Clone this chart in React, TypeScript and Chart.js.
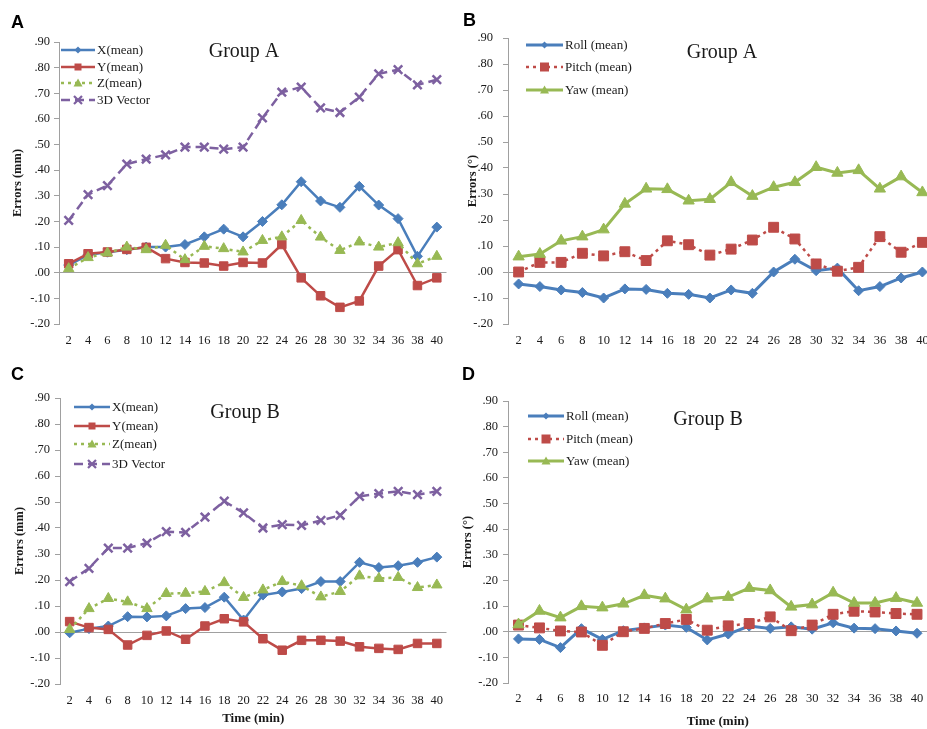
import React, { useEffect, useRef } from 'react';
import { Chart, registerables } from 'chart.js';

Chart.register(...registerables);

// ---------- data ----------
const timeLabels = ['2', '4', '6', '8', '10', '12', '14', '16', '18', '20', '22', '24', '26', '28', '30', '32', '34', '36', '38', '40'];

const groupA_X = [0.03, 0.07, 0.08, 0.09, 0.10, 0.10, 0.11, 0.14, 0.17, 0.14, 0.20, 0.265, 0.355, 0.28, 0.255, 0.337, 0.264, 0.211, 0.064, 0.178];
const groupA_Y = [0.035, 0.074, 0.081, 0.091, 0.099, 0.055, 0.04, 0.038, 0.026, 0.04, 0.038, 0.11, -0.02, -0.09, -0.135, -0.11, 0.026, 0.09, -0.05, -0.02];
const groupA_Z = [0.016, 0.059, 0.077, 0.10, 0.09, 0.107, 0.051, 0.103, 0.094, 0.081, 0.126, 0.14, 0.204, 0.139, 0.087, 0.12, 0.10, 0.117, 0.035, 0.064];
const groupA_3D = [0.204, 0.305, 0.34, 0.424, 0.443, 0.46, 0.49, 0.49, 0.482, 0.49, 0.604, 0.704, 0.724, 0.643, 0.625, 0.685, 0.776, 0.792, 0.733, 0.753];

const groupA_Roll = [-0.046, -0.056, -0.069, -0.079, -0.10, -0.065, -0.067, -0.082, -0.086, -0.10, -0.069, -0.082, 0.0, 0.049, 0.005, 0.015, -0.072, -0.056, -0.023, 0.0];
const groupA_Pitch = [0.0, 0.037, 0.037, 0.072, 0.062, 0.078, 0.044, 0.12, 0.105, 0.065, 0.088, 0.123, 0.172, 0.127, 0.031, 0.003, 0.018, 0.136, 0.076, 0.114];
const groupA_Yaw = [0.059, 0.069, 0.12, 0.136, 0.163, 0.262, 0.32, 0.318, 0.274, 0.28, 0.345, 0.292, 0.326, 0.345, 0.403, 0.381, 0.391, 0.32, 0.367, 0.306];

const groupB_X = [-0.003, 0.013, 0.023, 0.059, 0.058, 0.062, 0.09, 0.094, 0.134, 0.046, 0.142, 0.154, 0.167, 0.194, 0.194, 0.268, 0.248, 0.255, 0.268, 0.288];
const groupB_Y = [0.04, 0.017, 0.01, -0.05, -0.013, 0.004, -0.028, 0.023, 0.051, 0.039, -0.026, -0.07, -0.032, -0.032, -0.035, -0.057, -0.063, -0.067, -0.044, -0.044];
const groupB_Z = [0.01, 0.09, 0.129, 0.116, 0.09, 0.148, 0.149, 0.156, 0.19, 0.133, 0.162, 0.194, 0.178, 0.135, 0.156, 0.216, 0.206, 0.21, 0.171, 0.181];
const groupB_3D = [0.194, 0.245, 0.323, 0.323, 0.342, 0.386, 0.383, 0.442, 0.503, 0.458, 0.40, 0.413, 0.41, 0.429, 0.449, 0.522, 0.532, 0.541, 0.528, 0.541];

const groupB_Roll = [-0.028, -0.03, -0.062, 0.012, -0.03, 0.004, 0.015, 0.026, 0.017, -0.032, -0.009, 0.022, 0.013, 0.019, 0.01, 0.035, 0.014, 0.012, 0.003, -0.006];
const groupB_Pitch = [0.026, 0.015, 0.003, -0.001, -0.053, 0.0, 0.013, 0.032, 0.048, 0.006, 0.023, 0.032, 0.058, 0.004, 0.026, 0.068, 0.08, 0.077, 0.071, 0.068];
const groupB_Yaw = [0.028, 0.081, 0.055, 0.099, 0.094, 0.109, 0.142, 0.129, 0.086, 0.129, 0.135, 0.17, 0.161, 0.097, 0.106, 0.152, 0.112, 0.112, 0.131, 0.112];

const positionLabels = ['X(mean)', 'Y(mean)', 'Z(mean)', '3D Vector'];
const angleLabels = ['Roll (mean)', 'Pitch (mean)', 'Yaw (mean)'];

// ---------- styles ----------
const BLUE = '#4a7ebb';
const RED = '#be4b48';
const GREEN = '#98b954';
const PURPLE = '#7d60a0';
const TEXT = '#1a1a1a';
const AXIS = '#a0a0a0';
const SERIF = '"Liberation Serif", "Times New Roman", serif';
const SANS = '"Liberation Sans", Arial, sans-serif';

type Series = {
  label: string;
  data: number[];
  color: string;
  dash: number[];
  style: string;
  radius: number;
  pbw: number;
  lw: number;
  legR: number;
};

function positionSeries(x: number[], y: number[], z: number[], v: number[]): Series[] {
  return [
    { label: positionLabels[0], data: x, color: BLUE, dash: [], style: 'rectRot', radius: 5, pbw: 1, lw: 2.5, legR: 3.5 },
    { label: positionLabels[1], data: y, color: RED, dash: [], style: 'rect', radius: 6, pbw: 1, lw: 2.5, legR: 3.5 },
    { label: positionLabels[2], data: z, color: GREEN, dash: [3, 4], style: 'triangle', radius: 6, pbw: 1, lw: 2.5, legR: 4.5 },
    { label: positionLabels[3], data: v, color: PURPLE, dash: [9, 5], style: 'crossRot', radius: 6, pbw: 2.5, lw: 2.5, legR: 4 },
  ];
}

function angleSeries(r: number[], p: number[], yw: number[]): Series[] {
  return [
    { label: angleLabels[0], data: r, color: BLUE, dash: [], style: 'rectRot', radius: 5, pbw: 1, lw: 3, legR: 3.5 },
    { label: angleLabels[1], data: p, color: RED, dash: [3, 4], style: 'rect', radius: 7, pbw: 1, lw: 2.5, legR: 4.5 },
    { label: angleLabels[2], data: yw, color: GREEN, dash: [], style: 'triangle', radius: 6.5, pbw: 1, lw: 3, legR: 4.5 },
  ];
}

type PanelCfg = {
  left: number; top: number; width: number; height: number;
  L: number; T: number; R: number; H: number;
  yPad: number; yTitlePad: number; xPad: number; xTitlePad: number;
  yTitle: string; xTitle: string | null;
  group: string; gx: number; gy: number;
  letter: string; lx: number; ly: number;
  leg: { x1: number; x2: number; tx: number; ys: number[] };
  series: Series[];
};

const panels: PanelCfg[] = [
  {
    left: 0, top: 0, width: 455, height: 360, L: 59, T: 42, R: 4, H: 36,
    yPad: 4, yTitlePad: 10.5, xPad: 9.5, xTitlePad: 0,
    yTitle: 'Errors (mm)', xTitle: null,
    group: 'Group A', gx: 244, gy: 52, letter: 'A', lx: 11, ly: 23,
    leg: { x1: 61, x2: 95, tx: 97, ys: [50, 67, 83, 100] },
    series: positionSeries(groupA_X, groupA_Y, groupA_Z, groupA_3D),
  },
  {
    left: 455, top: 0, width: 490, height: 360, L: 53, T: 38, R: 12, H: 36,
    yPad: 10, yTitlePad: 10.5, xPad: 9.5, xTitlePad: 0,
    yTitle: 'Errors (°)', xTitle: null,
    group: 'Group A', gx: 267, gy: 53, letter: 'B', lx: 8, ly: 21,
    leg: { x1: 71, x2: 108, tx: 110, ys: [45, 67, 90] },
    series: angleSeries(groupA_Roll, groupA_Pitch, groupA_Yaw),
  },
  {
    left: 0, top: 360, width: 455, height: 369, L: 60, T: 38, R: 3, H: 45,
    yPad: 5, yTitlePad: 12.5, xPad: 9.5, xTitlePad: 3,
    yTitle: 'Errors (mm)', xTitle: 'Time (min)',
    group: 'Group B', gx: 245, gy: 53, letter: 'C', lx: 11, ly: 15,
    leg: { x1: 74, x2: 110, tx: 112, ys: [47, 66, 84, 104] },
    series: positionSeries(groupB_X, groupB_Y, groupB_Z, groupB_3D),
  },
  {
    left: 455, top: 360, width: 490, height: 369, L: 53, T: 41, R: 17.5, H: 46,
    yPad: 5, yTitlePad: 5.5, xPad: 8.5, xTitlePad: 0,
    yTitle: 'Errors (°)', xTitle: 'Time (min)',
    group: 'Group B', gx: 253, gy: 60, letter: 'D', lx: 7, ly: 15,
    leg: { x1: 73, x2: 109, tx: 111, ys: [56, 79, 101] },
    series: angleSeries(groupB_Roll, groupB_Pitch, groupB_Yaw),
  },
];

function drawMarker(ctx: CanvasRenderingContext2D, style: string, x: number, y: number, r: number, color: string) {
  ctx.save();
  ctx.setLineDash([]);
  ctx.fillStyle = color;
  ctx.strokeStyle = color;
  ctx.beginPath();
  if (style === 'rectRot') {
    ctx.moveTo(x, y - r);
    ctx.lineTo(x + r, y);
    ctx.lineTo(x, y + r);
    ctx.lineTo(x - r, y);
    ctx.closePath();
    ctx.fill();
  } else if (style === 'rect') {
    ctx.rect(x - r, y - r, 2 * r, 2 * r);
    ctx.fill();
  } else if (style === 'triangle') {
    ctx.moveTo(x, y - r);
    ctx.lineTo(x + r, y + r * 0.75);
    ctx.lineTo(x - r, y + r * 0.75);
    ctx.closePath();
    ctx.fill();
  } else if (style === 'crossRot') {
    ctx.lineWidth = 2.2;
    ctx.moveTo(x - r, y - r);
    ctx.lineTo(x + r, y + r);
    ctx.moveTo(x + r, y - r);
    ctx.lineTo(x - r, y + r);
    ctx.stroke();
  }
  ctx.restore();
}

function fmtTick(value: number | string): string {
  const v = Number(value);
  if (Math.abs(v) < 1e-9) return '.00';
  const s = Math.abs(v).toFixed(2).replace(/^0/, '');
  return (v < 0 ? '-' : '') + s;
}

function Panel({ cfg }: { cfg: PanelCfg }) {
  const ref = useRef<HTMLCanvasElement | null>(null);

  useEffect(() => {
    if (!ref.current) return;
    const overlay = {
      id: 'overlay' + cfg.letter,
      afterDraw(chart: any) {
        const ctx: CanvasRenderingContext2D = chart.ctx;
        ctx.save();
        // panel letter
        ctx.font = `bold 18px ${SANS}`;
        ctx.fillStyle = '#000';
        ctx.textAlign = 'left';
        ctx.textBaseline = 'middle';
        ctx.fillText(cfg.letter, cfg.lx, cfg.ly);
        // group title
        ctx.font = `20px ${SERIF}`;
        ctx.fillStyle = TEXT;
        ctx.textAlign = 'center';
        ctx.fillText(cfg.group, cfg.gx, cfg.gy);
        // legend
        cfg.series.forEach((s, i) => {
          const y = cfg.leg.ys[i];
          ctx.save();
          ctx.strokeStyle = s.color;
          ctx.lineWidth = s.lw;
          ctx.setLineDash(s.dash);
          ctx.beginPath();
          ctx.moveTo(cfg.leg.x1, y);
          ctx.lineTo(cfg.leg.x2, y);
          ctx.stroke();
          ctx.restore();
          drawMarker(ctx, s.style, (cfg.leg.x1 + cfg.leg.x2) / 2, y, s.legR, s.color);
          ctx.font = `13px ${SERIF}`;
          ctx.fillStyle = TEXT;
          ctx.textAlign = 'left';
          ctx.textBaseline = 'middle';
          ctx.fillText(s.label, cfg.leg.tx, y + 0.5);
        });
        ctx.restore();
      },
    };

    const chart = new Chart(ref.current, {
      type: 'line',
      data: {
        labels: timeLabels,
        datasets: cfg.series.map((s, i) => ({
          label: s.label,
          data: s.data,
          borderColor: s.color,
          backgroundColor: s.color,
          borderWidth: s.lw,
          borderDash: s.dash,
          pointStyle: s.style as any,
          pointRadius: s.radius,
          pointHoverRadius: s.radius,
          pointBackgroundColor: s.color,
          pointBorderColor: s.color,
          pointBorderWidth: s.pbw,
          tension: 0,
          fill: false,
          order: cfg.series.length - i,
        })),
      },
      options: {
        responsive: false,
        animation: false,
        events: [],
        layout: { padding: { left: 0, top: cfg.T, right: cfg.R, bottom: 0 } },
        plugins: {
          legend: { display: false },
          tooltip: { enabled: false },
          title: { display: false },
        },
        scales: {
          x: {
            type: 'category',
            offset: true,
            grid: { display: false, drawTicks: false },
            border: { display: false },
            ticks: {
              autoSkip: false,
              maxRotation: 0,
              minRotation: 0,
              padding: cfg.xPad,
              color: TEXT,
              font: { family: SERIF, size: 12.5 },
            },
            title: cfg.xTitle
              ? {
                  display: true,
                  text: cfg.xTitle,
                  color: TEXT,
                  font: { family: SERIF, size: 13, weight: 'bold' },
                  padding: { top: 0, bottom: cfg.xTitlePad },
                }
              : { display: false },
            afterFit: (scale: any) => {
              scale.height = cfg.H;
            },
          },
          y: {
            type: 'linear',
            min: -0.2,
            max: 0.9,
            ticks: {
              stepSize: 0.1,
              padding: cfg.yPad,
              color: TEXT,
              font: { family: SERIF, size: 12.5 },
              callback: (v: any) => fmtTick(v),
            },
            grid: {
              color: (c: any) => (c.tick && Math.abs(c.tick.value) < 1e-9 ? AXIS : 'rgba(0,0,0,0)'),
              tickColor: AXIS,
              tickLength: 5,
              lineWidth: 1,
            },
            border: { display: true, color: AXIS, width: 1 },
            title: {
              display: true,
              text: cfg.yTitle,
              color: TEXT,
              font: { family: SERIF, size: 12.5, weight: 'bold' },
              padding: { top: cfg.yTitlePad, bottom: 0 },
            },
            afterFit: (scale: any) => {
              scale.width = cfg.L;
            },
          },
        },
      } as any,
      plugins: [overlay],
    });
    return () => chart.destroy();
  }, [cfg]);

  return (
    <canvas
      ref={ref}
      width={cfg.width}
      height={cfg.height}
      style={{ position: 'absolute', left: cfg.left, top: cfg.top, width: cfg.width, height: cfg.height }}
    />
  );
}

export default function App() {
  return (
    <div
      style={{
        position: 'absolute',
        left: 0,
        top: 0,
        width: 927,
        height: 729,
        overflow: 'hidden',
        background: '#ffffff',
      }}
    >
      {panels.map((p) => (
        <Panel key={p.letter} cfg={p} />
      ))}
    </div>
  );
}
